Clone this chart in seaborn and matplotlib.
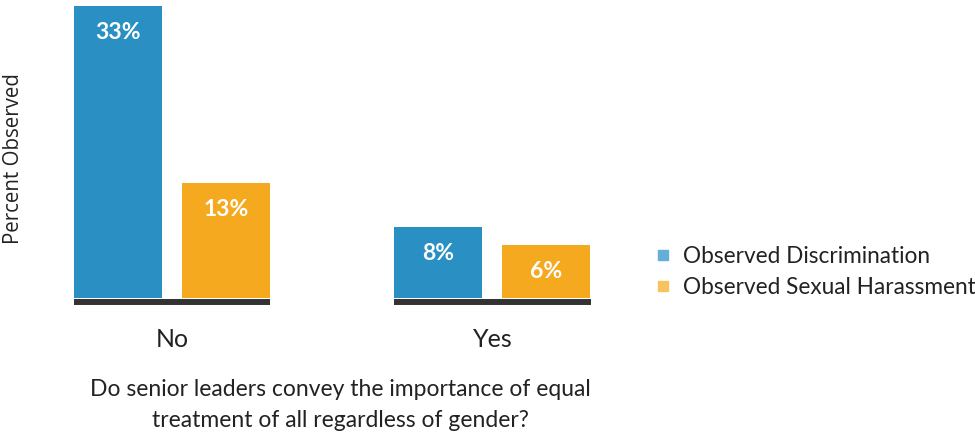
import matplotlib
matplotlib.use("Agg")
import matplotlib.pyplot as plt
from matplotlib.lines import Line2D
import seaborn as sns
import pandas as pd

categories = ["No", "Yes"]
series_names = ["Observed Discrimination", "Observed Sexual Harassment"]
discrimination = [33, 8]
harassment = [13, 6]
value_labels_disc = ["33%", "8%"]
value_labels_har = ["13%", "6%"]
x_label = "Do senior leaders convey the importance of equal\ntreatment of all regardless of gender?"
y_label = "Percent Observed"

bar_colors = ["#2A90C4", "#F5A91F"]
legend_colors = ["#63AFD8", "#F8C25E"]

df = pd.DataFrame({
    "answer": categories * 2,
    "series": [series_names[0]] * 2 + [series_names[1]] * 2,
    "value": discrimination + harassment,
})

sns.set_theme(style="white")
plt.rcParams["font.family"] = ["Lato", "DejaVu Sans"]

fig = plt.figure(figsize=(9.75, 4.37), dpi=100)
ax = fig.add_axes([60 / 975, 1 - 310 / 437, 560 / 975, 304 / 437])

sns.barplot(data=df, x="answer", y="value", hue="series", order=categories,
            hue_order=series_names, palette=bar_colors, width=0.674, gap=0.185,
            linewidth=0, saturation=1, legend=False, ax=ax)

ax.set_xlim(-0.349, 1.398)
ax.set_ylim(-1.36, 33)

# baselines under each group
for i in range(len(categories)):
    ax.hlines(-0.42, i - 0.306, i + 0.306, color="#333333", linewidth=4.3,
              capstyle="butt", zorder=3)

# value labels
labels = [value_labels_disc, value_labels_har]
for cont, labs in zip(ax.containers, labels):
    for rect, lab in zip(cont, labs):
        ax.annotate(lab, (rect.get_x() + rect.get_width() / 2, rect.get_height()),
                    xytext=(0, -19), textcoords="offset points", ha="center",
                    va="center", color="white", fontsize=16.5, fontweight="bold")

sns.despine(ax=ax, left=True, bottom=True)
ax.set_yticks([])
ax.tick_params(axis="x", length=0, pad=13, labelsize=18, colors="#222222")
ax.set_xlabel(x_label, fontsize=16.5, color="#222222", labelpad=20, linespacing=1.62)
ax.set_ylabel("")
fig.text(14 / 975, 1 - 159 / 437, y_label, rotation=90, ha="center", va="center",
         fontsize=14.8, color="#222222", family=["Open Sans", "DejaVu Sans"])

handles = [Line2D([0], [0], marker="s", linestyle="none", markersize=7,
                  markerfacecolor=c, markeredgecolor=c) for c in legend_colors]
fig.legend(handles, series_names, loc="center left",
           bbox_to_anchor=(643 / 975, 1 - 272 / 437), frameon=False,
           fontsize=16.3, handletextpad=0.35, labelspacing=0.45, handlelength=1.0,
           labelcolor="#222222", borderaxespad=0)

fig.savefig("out.png", dpi=100)
